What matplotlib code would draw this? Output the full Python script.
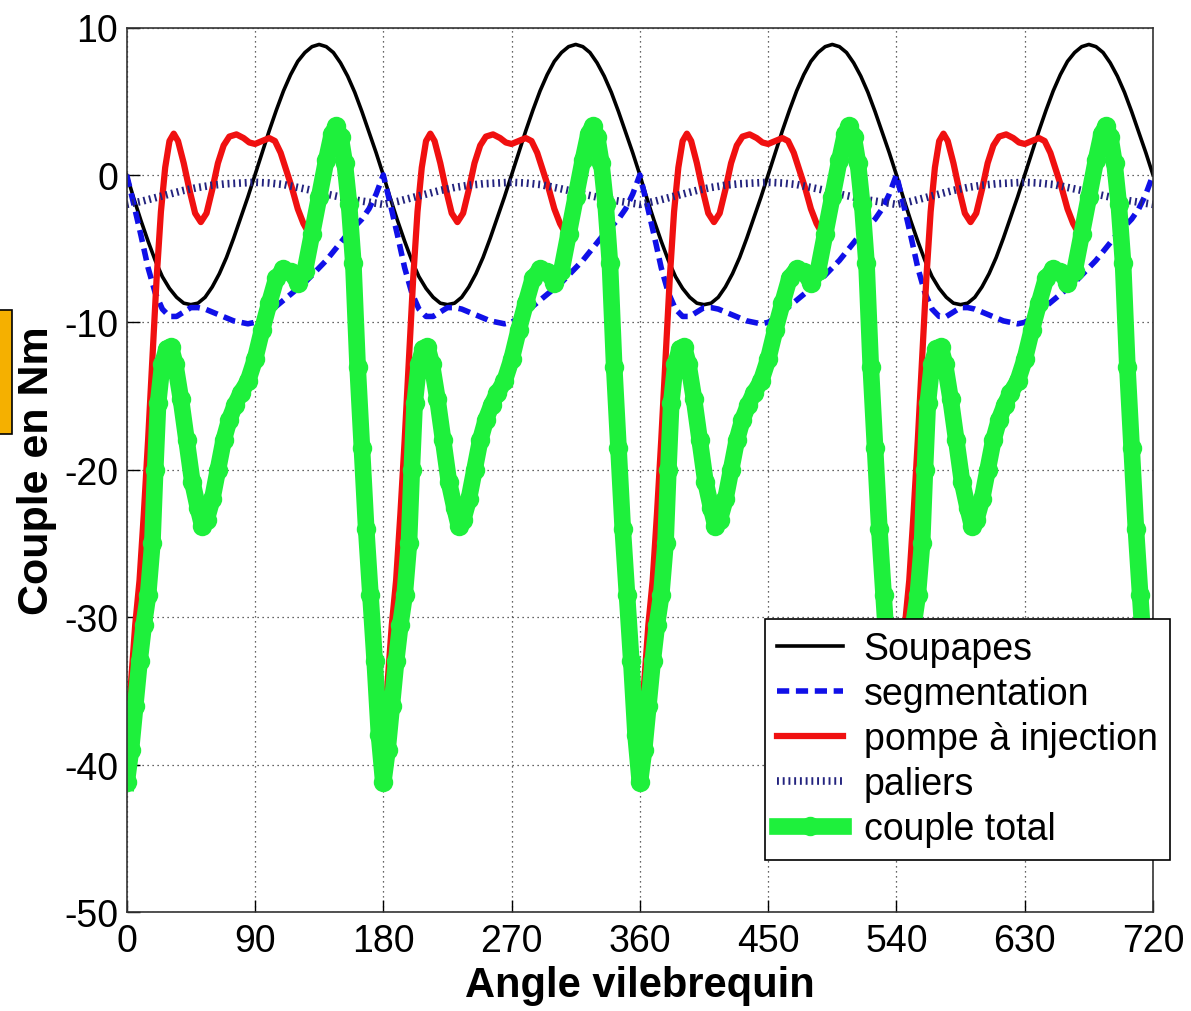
import numpy as np
import matplotlib
matplotlib.use("Agg")
import matplotlib.pyplot as plt
from matplotlib.patches import Rectangle

plt.rcParams['font.family'] = ['Liberation Sans', 'DejaVu Sans']
plt.rcParams['axes.unicode_minus'] = False

# ---- data (one 180-degree cycle, repeated 4 times) ----
period = 180
n_periods = 4

ang_soup = [0, 5, 10, 15, 20, 25, 30, 35, 40, 45, 50, 55, 60, 65, 70, 75, 80, 85, 90,
            95, 100, 105, 110, 115, 120, 125, 130, 135, 140, 145, 150, 155, 160, 165, 170, 175, 180]
soupapes = [0, -1.6, -3.1, -4.5, -5.8, -6.9, -7.7, -8.3, -8.7, -8.8, -8.7, -8.3, -7.6, -6.7, -5.6, -4.3, -2.9, -1.5, 0,
            1.5, 3.0, 4.4, 5.7, 6.8, 7.7, 8.3, 8.7, 8.85, 8.7, 8.3, 7.6, 6.7, 5.6, 4.3, 2.9, 1.5, 0]

ang_seg = ang_soup
segmentation = [0, -2.0, -4.1, -6.3, -8.0, -9.1, -9.6, -9.6, -9.3, -9.0, -9.0, -9.1, -9.3, -9.5, -9.7, -9.9, -10.0, -10.1, -10.0,
                -9.7, -9.3, -8.9, -8.5, -8.1, -7.7, -7.3, -6.8, -6.3, -5.8, -5.2, -4.6, -4.0, -3.5, -3.0, -2.3, -1.3, 0]

ang_pompe = [0, 3, 6, 9, 12, 15, 18, 21, 24, 27, 30, 33, 36, 40, 44, 48, 52, 56, 60, 64, 68, 72, 77,
             82, 86, 90, 95, 100, 104, 108, 112, 116, 120, 124, 128, 129]
pompe = [-38.5, -34.5, -30.5, -27.5, -23.0, -18.0, -12.5, -7.0, -2.5, 0.5, 2.3, 2.8, 2.3, 0.8, -1.0, -2.6, -3.2, -2.6, -1.0, 0.8, 2.0, 2.6, 2.75,
         2.5, 2.2, 2.1, 2.3, 2.5, 2.3, 1.5, 0.3, -0.9, -2.3, -3.3, -4.0, np.nan]

ang_pal = [0, 10, 20, 30, 40, 50, 60, 70, 80, 90, 100, 110, 120, 130, 140, 150, 160, 170, 180]
paliers = [-2.0, -1.8, -1.55, -1.3, -1.05, -0.85, -0.7, -0.6, -0.55, -0.5, -0.55, -0.65, -0.85, -1.05, -1.3, -1.5, -1.7, -1.85, -2.0]

ang_tot = [0, 3, 6, 9, 12, 15, 18, 20, 22, 25, 28, 31, 34, 38, 42, 46, 50, 53, 56, 60, 64, 68, 72, 76, 80, 85,
           90, 95, 100, 105, 110, 115, 120, 125, 130, 135, 140, 144, 147, 150, 153, 156, 159, 162, 165, 168,
           171, 174, 177, 180]
total = [-41.2, -39.0, -36.0, -33.0, -30.5, -28.5, -25.0, -20.0, -15.5, -12.8, -11.8, -11.7, -12.8, -15.2, -18.0, -20.8,
         -22.6, -23.8, -23.4, -22.0, -20.0, -18.0, -16.6, -15.6, -14.8, -14.0,
         -12.5, -10.5, -8.7, -7.0, -6.4, -6.6, -7.3, -6.5, -4.0, -1.5, 1.0, 2.8, 3.3, 2.6, 0.8, -2.0, -6.0, -13.0,
         -18.5, -24.0, -28.5, -33.0, -38.0, -41.2]

labels = ["Soupapes", "segmentation", "pompe à injection", "paliers", "couple total"]
x_ticks = [0, 90, 180, 270, 360, 450, 540, 630, 720]
y_ticks = [-50, -40, -30, -20, -10, 0, 10]


def repeat_cycle(ang, val, closed=True):
    ang = np.asarray(ang, dtype=float)
    val = np.asarray(val, dtype=float)
    xs, ys = [], []
    for k in range(n_periods):
        if closed and k < n_periods - 1:
            xs.append(ang[:-1] + k * period)
            ys.append(val[:-1])
        else:
            xs.append(ang + k * period)
            ys.append(val)
    return np.concatenate(xs), np.concatenate(ys)


W, H = 1191, 1012
fig = plt.figure(figsize=(W / 100, H / 100), dpi=100)
ax = fig.add_axes([126.7 / W, 1 - 913 / H, (1153 - 126.7) / W, (913 - 28.5) / H])

xs, ys = repeat_cycle(ang_soup, soupapes)
ax.plot(xs, ys, color='black', lw=2.6, label=labels[0])
xs, ys = repeat_cycle(ang_seg, segmentation)
ax.plot(xs, ys, color='#1010e8', lw=4.0, linestyle=(0, (2.2, 1.2)), label=labels[1])
xs, ys = repeat_cycle(ang_pompe, pompe, closed=False)
ax.plot(xs, ys, color='#f01010', lw=4.5, label=labels[2])
xs, ys = repeat_cycle(ang_pal, paliers)
ax.plot(xs, ys, color='#23237e', lw=5.5, linestyle=(0, (0.25, 0.5)), dash_capstyle='butt',
        label=labels[3])
xs, ys = repeat_cycle(ang_tot, total)
ax.plot(xs, ys, color='#1ef03c', lw=12, marker='o', markersize=14, markeredgewidth=0,
        label=labels[4])

ax.set_xlim(0, 720)
ax.set_ylim(-50, 10)
ax.set_xticks(x_ticks)
ax.set_yticks(y_ticks)
ax.tick_params(direction='in', length=9, width=1, labelsize=27, pad=8)
ax.tick_params(axis='y', pad=6)
ax.grid(True, color='#333333', linestyle=(0, (1, 3)), linewidth=0.9)
for s in ax.spines.values():
    s.set_linewidth(1.2)
    s.set_color('#333333')

ax.set_xlabel("Angle vilebrequin", fontsize=30, fontweight='bold', labelpad=4)
ax.set_ylabel("Couple en Nm", fontsize=31, fontweight='bold')
ax.yaxis.set_label_coords((57 - 126.7) / (1153 - 126.7), 0.5)

leg = ax.legend(loc='upper left', bbox_to_anchor=(765 / W, 1 - 620 / H), bbox_transform=fig.transFigure,
                fontsize=27, frameon=True, fancybox=False, framealpha=1, edgecolor='black',
                handlelength=1.75, handletextpad=0.55, labelspacing=0.24, borderpad=0.33,
                borderaxespad=0)
leg.get_frame().set_linewidth(1.2)
leg.set_zorder(5)

# partially visible orange box at the left edge
fig.patches.append(Rectangle((-20 / W, 1 - 435 / H), 32 / W, 124 / H, transform=fig.transFigure,
                             facecolor='#f5b000', edgecolor='black', lw=1.2))

fig.savefig("out.png", dpi=100)
